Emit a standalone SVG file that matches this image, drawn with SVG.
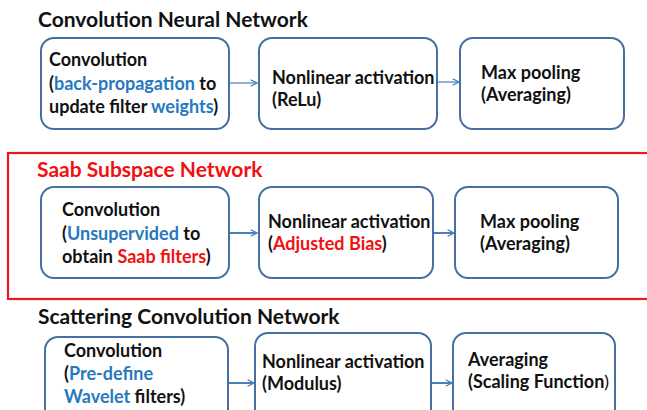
<svg xmlns="http://www.w3.org/2000/svg" width="647" height="410" viewBox="0 0 647 410">
  <style>
    text { font-family: Lato, "Open Sans", "DejaVu Sans", sans-serif; font-weight: bold; fill: #111; }
    .title { font-size: 21px; }
    .lbl { font-size: 18px; }
    .blue { fill: #2878BE; }
    .red { fill: #F01010; }
    .thin { font-weight: normal; }
    .node rect { fill: #fff; stroke: #4670A2; stroke-width: 2; }
    .conn line { stroke: #4A7EBB; stroke-width: 1.6; fill: none; }
    .frame { fill: none; stroke: #E8181E; stroke-width: 2.2; }
  </style>
  <defs>
    <marker id="arrow" viewBox="0 0 10 10" refX="9" refY="5" markerWidth="8" markerHeight="8" markerUnits="userSpaceOnUse" orient="auto">
      <path d="M1,1 L9,5 L1,9" fill="none" stroke="#4A7EBB" stroke-width="1.6"/>
    </marker>
  </defs>
  <rect width="647" height="410" fill="#fff"/>

  <!-- Convolution Neural Network -->
  <text class="title" x="38" y="27">Convolution Neural Network</text>
  <g id="cnn-conv" class="node">
    <rect x="41" y="38" width="188" height="91" rx="13"/>
    <text class="lbl" x="49" y="66">Convolution</text>
    <text class="lbl" x="49" y="90">(<tspan class="blue">back-propagation</tspan> to</text>
    <text class="lbl" x="49" y="113">update filter <tspan class="blue">weights</tspan>)</text>
  </g>
  <g id="cnn-act" class="node">
    <rect x="259" y="38" width="178" height="91" rx="13"/>
    <text class="lbl" x="272" y="84">Nonlinear activation</text>
    <text class="lbl" x="272" y="106">(ReLu)</text>
  </g>
  <g id="cnn-pool" class="node">
    <rect x="460" y="38" width="164" height="91" rx="13"/>
    <text class="lbl" x="481" y="79">Max pooling</text>
    <text class="lbl" x="481" y="101">(Averaging)</text>
  </g>

  <!-- Saab Subspace Network -->
  <rect class="frame" x="8" y="153" width="646" height="146"/>
  <text class="title red" x="37" y="177">Saab Subspace Network</text>
  <g id="saab-conv" class="node">
    <rect x="41" y="187" width="188" height="91" rx="13"/>
    <text class="lbl" x="62" y="216">Convolution</text>
    <text class="lbl" x="62" y="240">(<tspan class="blue">Unsupervided</tspan> to</text>
    <text class="lbl" x="62" y="263">obtain <tspan class="red">Saab filters</tspan>)</text>
  </g>
  <g id="saab-act" class="node">
    <rect x="259" y="187" width="174" height="91" rx="13"/>
    <text class="lbl" x="268" y="228">Nonlinear activation</text>
    <text class="lbl" x="268" y="250">(<tspan class="red">Adjusted Bias</tspan>)</text>
  </g>
  <g id="saab-pool" class="node">
    <rect x="455" y="187" width="163" height="91" rx="13"/>
    <text class="lbl" x="480" y="228">Max pooling</text>
    <text class="lbl" x="480" y="250">(Averaging)</text>
  </g>

  <!-- Scattering Convolution Network -->
  <text class="title" x="38" y="324">Scattering Convolution Network</text>
  <g id="scat-conv" class="node">
    <rect x="45" y="337" width="183" height="91" rx="13"/>
    <text class="lbl" x="64" y="357">Convolution</text>
    <text class="lbl" x="64" y="380">(<tspan class="blue">Pre-define</tspan></text>
    <text class="lbl" x="64" y="403"><tspan class="blue">Wavelet</tspan> filters)</text>
  </g>
  <g id="scat-act" class="node">
    <rect x="255" y="333" width="176" height="91" rx="13"/>
    <text class="lbl" x="262" y="368">Nonlinear activation</text>
    <text class="lbl" x="262" y="390">(Modulus)</text>
  </g>
  <g id="scat-avg" class="node">
    <rect x="453" y="333" width="162" height="91" rx="13"/>
    <text class="lbl" x="468" y="366">Averaging</text>
    <text class="lbl" x="468" y="388">(Scaling Function<tspan class="thin">)</tspan></text>
  </g>

  <g id="connectors" class="conn">
    <line x1="230" y1="83" x2="257" y2="83" marker-end="url(#arrow)" style="stroke-width:1.2"/>
    <line x1="438" y1="82" x2="459" y2="82" marker-end="url(#arrow)" style="stroke-width:1.2"/>
    <line x1="230" y1="233" x2="257" y2="233" marker-end="url(#arrow)" style="stroke-width:2"/>
    <line x1="434" y1="233" x2="454" y2="233" marker-end="url(#arrow)" style="stroke-width:2"/>
    <line x1="229" y1="383" x2="254" y2="383" marker-end="url(#arrow)" style="stroke-width:2"/>
    <line x1="432" y1="383" x2="452" y2="383" marker-end="url(#arrow)" style="stroke-width:2"/>
  </g>
</svg>
